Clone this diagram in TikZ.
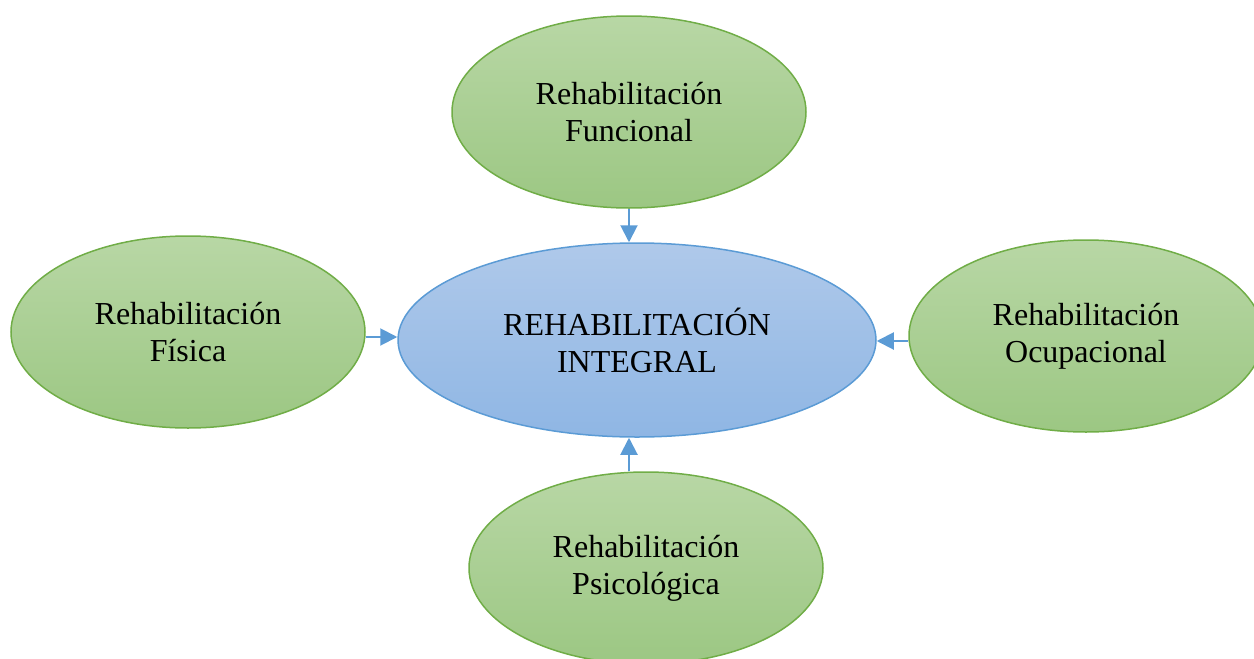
\documentclass[tikz,border=0pt]{standalone}
\usepackage{fontspec}
\setmainfont{Liberation Serif}
\usetikzlibrary{shapes.geometric, arrows.meta}
\definecolor{leafgreen}{RGB}{112, 173, 71}
\definecolor{greentop}{RGB}{184, 215, 165}
\definecolor{greenbot}{RGB}{156, 199, 131}
\definecolor{skyblue}{RGB}{91, 155, 213}
\definecolor{bluetop}{RGB}{175, 201, 234}
\definecolor{bluebot}{RGB}{143, 182, 228}

\begin{document}
\begin{tikzpicture}[
    x=1pt, y=-1pt,
    font=\fontsize{32}{37}\selectfont,
    branch/.style={ellipse, draw=leafgreen, line width=1.5pt, top color=greentop, bottom color=greenbot, minimum width=354pt, minimum height=192pt, inner sep=0pt, align=center},
    core/.style={ellipse, draw=skyblue, line width=1.5pt, top color=bluetop, bottom color=bluebot, minimum width=478pt, minimum height=194pt, inner sep=0pt, align=center},
    line/.style={draw=skyblue, line width=2pt, -{Triangle[length=17pt, width=17pt]}}
]

    \useasboundingbox (0,0) rectangle (1254,659);

    \node [core] (cen) at (637,340) {REHABILITACIÓN\\INTEGRAL};
    \node [branch] (fun) at (629,112) {Rehabilitación\\Funcional};
    \node [branch] (fis) at (188,332) {Rehabilitación\\Física};
    \node [branch] (ocu) at (1086,336) {Rehabilitación\\Ocupacional};
    \node [branch] (psi) at (646,568) {Rehabilitación\\Psicológica};

    \path [line] (fun.south) -- (fun.south |- cen.north);
    \path [line] (psi.north -| fun.south) -- (fun.south |- cen.south);
    \path [line] ([yshift=-5pt]fis.east) -- ([yshift=-5pt]fis.east -| cen.west);
    \path [line] ([yshift=-5pt]ocu.west) -- ([yshift=-5pt]ocu.west -| cen.east);

\end{tikzpicture}
\end{document}
